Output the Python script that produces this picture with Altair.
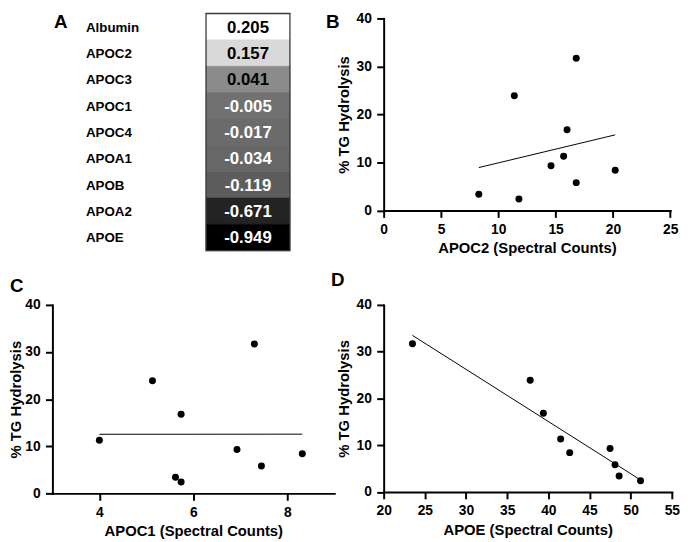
import altair as alt
import pandas as pd

FONT = "Liberation Sans"

# ---- Panel A: correlation table ----
proteins = ["Albumin", "APOC2", "APOC3", "APOC1", "APOC4", "APOA1", "APOB", "APOA2", "APOE"]
correlations = [0.205, 0.157, 0.041, -0.005, -0.017, -0.034, -0.119, -0.671, -0.949]
cell_shades = ["#ffffff", "#d9d9d9", "#8b8b8b", "#717171", "#6b6b6b", "#676767",
               "#5d5d5d", "#232323", "#000000"]

# ---- Panels B-D: % TG hydrolysis vs spectral counts (one entry per sample) ----
tg_hydrolysis = [31.7, 23.9, 16.8, 11.3, 9.3, 8.4, 5.8, 3.4, 2.4]
apoc2_counts = [16.8, 11.4, 16.0, 15.7, 14.6, 20.2, 16.8, 8.3, 11.8]
apoc1_counts = [7.30, 5.13, 5.74, 4.00, 6.93, 8.32, 7.45, 5.62, 5.74]
apoe_counts = [23.5, 37.8, 39.4, 41.5, 47.5, 42.6, 48.1, 48.6, 51.2]

y_ticks = [0, 10, 20, 30, 40]
x_ticks_b = [0, 5, 10, 15, 20, 25]
x_ticks_c = [4, 6, 8]
x_ticks_d = [20, 25, 30, 35, 40, 45, 50, 55]


def letter(t, dx, dy):
    return alt.TitleParams(text=t, anchor="start", frame="group", baseline="top",
                           offset=0, dx=dx, dy=dy, fontSize=19, fontWeight="bold",
                           font=FONT, color="black")


# Panel A
A_W, A_H = 240.7, 240.4
table = pd.DataFrame({
    "protein": proteins,
    "r": correlations,
    "label": [f"{v:.3f}" for v in correlations],
})
xcol = alt.Scale(type="band", domain=["name", "r"], paddingInner=0.454, paddingOuter=0)
yrow = alt.Y("protein:N", sort=proteins,
             scale=alt.Scale(type="band", domain=proteins, paddingInner=0, paddingOuter=0),
             axis=None)
shade = alt.Scale(domain=proteins, range=cell_shades)

base_a = alt.Chart(table).encode(y=yrow)
cells = base_a.transform_calculate(col="'r'").mark_rect(strokeWidth=0.6).encode(
    x=alt.X("col:N", scale=xcol, axis=None),
    fill=alt.Fill("protein:N", scale=shade, legend=None),
    stroke=alt.Stroke("protein:N", scale=shade, legend=None),
)
outline = alt.Chart(pd.DataFrame({"col": ["r"]})).mark_rect(
    fillOpacity=0, stroke="#3a3a3a", strokeWidth=1.3
).encode(
    x=alt.X("col:N", scale=xcol, axis=None),
    y=alt.value(0), y2=alt.value(A_H),
)
names = base_a.transform_calculate(col="'name'").mark_text(
    align="left", baseline="middle", dx=34, dy=1, fontSize=13.5, fontWeight="bold",
    font=FONT, color="black"
).encode(
    x=alt.X("col:N", scale=xcol, axis=None, bandPosition=0),
    text="protein:N",
)
values = base_a.transform_calculate(col="'r'").mark_text(
    align="center", baseline="middle", dy=1, fontSize=17, fontWeight="bold", font=FONT
).encode(
    x=alt.X("col:N", scale=xcol, axis=None),
    text="label:N",
    color=alt.condition("datum.r < 0", alt.value("white"), alt.value("black")),
)
panel_a = alt.layer(cells, outline, names, values).properties(
    width=A_W, height=A_H, title=letter("A", 1.5, 19.3)
)


def scatter(xvals, xtitle, xdom, xticks, w, h, title, yrange=None, ytitle_pad=5):
    df = pd.DataFrame({"counts": xvals, "tg": tg_hydrolysis})
    if yrange is None:
        ysc = alt.Scale(domain=[0, 40], nice=False)
    else:
        ysc = alt.Scale(domain=[0, 40], nice=False, range=yrange)
    x = alt.X("counts:Q", scale=alt.Scale(domain=xdom, nice=False, zero=False),
              axis=alt.Axis(values=xticks, title=xtitle, format="d"))
    y = alt.Y("tg:Q", scale=ysc,
              axis=alt.Axis(values=y_ticks, title="% TG Hydrolysis", format="d",
                            titlePadding=ytitle_pad))
    base = alt.Chart(df)
    fit = base.transform_regression("counts", "tg").mark_line(
        color="black", strokeWidth=1).encode(x=x, y=y)
    pts = base.mark_circle(size=50, color="black", opacity=1).encode(x=x, y=y)
    return alt.layer(fit, pts).properties(width=w, height=h, title=title)


B_H = 199.6
panel_b = scatter(apoc2_counts, "APOC2 (Spectral Counts)", [0, 25], x_ticks_b,
                  290.4, B_H, letter("B", -58.5, 20.2), yrange=[B_H, 5])
panel_c = scatter(apoc1_counts, "APOC1 (Spectral Counts)", [3, 9], x_ticks_c,
                  285.6, 191, letter("C", -43, -1.9), ytitle_pad=1)
panel_d = scatter(apoe_counts, "APOE (Spectral Counts)", [20, 55], x_ticks_d,
                  292, 189.5, letter("D", -53.5, -7.9))

chart = alt.concat(
    panel_a, panel_b, panel_c, panel_d, columns=2,
    spacing={"row": 54.3, "column": 49.7}, bounds="flush", align="each"
).properties(padding=0).configure_view(stroke=None).configure_axis(
    domainColor="black", domainWidth=2, domainCap="square",
    tickColor="black", tickWidth=2, tickSize=7,
    labelFont=FONT, labelFontSize=14, labelFontWeight="bold", labelColor="black",
    labelFlush=False, labelOverlap=False,
    titleFont=FONT, titleFontSize=15, titleFontWeight="bold", titleColor="black",
    grid=False,
).configure_axisX(labelPadding=5, titlePadding=5).configure_axisY(labelPadding=5.5)

chart.save("out.html", embed_options={"renderer": "svg", "actions": False})
